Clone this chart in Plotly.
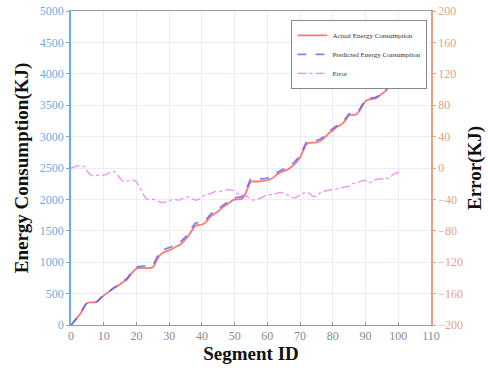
import plotly.graph_objects as go

# Segment index for each measurement
segment_id = list(range(0, 102))

# Measured energy consumption per segment (KJ)
actual_kj = [
    0, 60, 125, 190, 290, 350, 360, 360, 370, 420,
    470, 510, 545, 585, 615, 650, 690, 720, 790, 850,
    900, 905, 905, 905, 910, 920, 1010, 1100, 1150, 1170,
    1190, 1215, 1245, 1270, 1310, 1365, 1430, 1510, 1580, 1590,
    1600, 1630, 1690, 1745, 1780, 1810, 1860, 1900, 1930, 1975,
    1995, 2000, 2005, 2060, 2180, 2280, 2285, 2285, 2290, 2295,
    2305, 2325, 2355, 2400, 2430, 2450, 2470, 2505, 2545, 2600,
    2670, 2780, 2880, 2900, 2905, 2905, 2925, 2960, 3010, 3065,
    3100, 3140, 3175, 3210, 3270, 3340, 3345, 3350, 3400, 3490,
    3565, 3590, 3600, 3610, 3640, 3680, 3720, 3780, 3810, 3815,
    3820, 3825,
]

# Model-predicted energy consumption per segment (KJ)
predicted_kj = [
    0, 59, 122, 188, 288, 354, 369, 370, 379, 429,
    479, 518, 550, 589, 623, 663, 707, 737, 806, 865,
    918, 930, 938, 944, 950, 960, 1051, 1143, 1194, 1213,
    1232, 1255, 1285, 1311, 1349, 1402, 1467, 1549, 1621, 1630,
    1637, 1664, 1723, 1777, 1810, 1840, 1889, 1928, 1958, 2003,
    2025, 2033, 2040, 2094, 2217, 2320, 2326, 2325, 2328, 2331,
    2339, 2359, 2388, 2432, 2461, 2482, 2504, 2541, 2583, 2637,
    2704, 2812, 2911, 2933, 2941, 2940, 2957, 2990, 3039, 3093,
    3127, 3167, 3201, 3235, 3294, 3363, 3365, 3369, 3418, 3506,
    3581, 3609, 3617, 3625, 3654, 3694, 3733, 3793, 3820, 3822,
    3826, 3834,
]

# Cumulative error, actual minus predicted (KJ)
error_kj = [
    0, 1, 3, 2, 2, -4, -9, -10, -9, -9,
    -9, -8, -5, -4, -8, -13, -17, -17, -16, -15,
    -18, -25, -33, -39, -40, -40, -41, -43, -44, -43,
    -42, -40, -40, -41, -39, -37, -37, -39, -41, -40,
    -37, -34, -33, -32, -30, -30, -29, -28, -28, -28,
    -30, -33, -35, -34, -37, -40, -41, -40, -38, -36,
    -34, -34, -33, -32, -31, -32, -34, -36, -38, -37,
    -34, -32, -31, -33, -36, -35, -32, -30, -29, -28,
    -27, -27, -26, -25, -24, -23, -20, -19, -18, -16,
    -16, -19, -17, -15, -14, -14, -13, -13, -10, -7,
    -6, -9,
]

SERIF = "Liberation Serif, Times New Roman, serif"
LEFT_COLOR = "#6aaee0"
RIGHT_COLOR = "#e3a284"
GRID = "#e8eef4"

fig = go.Figure()

fig.add_trace(go.Scatter(
    x=segment_id, y=actual_kj, name="Actual Energy Consumption",
    mode="lines", line=dict(color="rgba(255,95,95,0.85)", width=1.8, shape="spline"),
))
fig.add_trace(go.Scatter(
    x=segment_id, y=predicted_kj, name="Predicted Energy Consumption",
    mode="lines", line=dict(color="rgba(90,90,240,0.75)", width=1.8, dash="dash", shape="spline"),
))
fig.add_trace(go.Scatter(
    x=segment_id, y=error_kj, name="Error", yaxis="y2",
    mode="lines", line=dict(color="rgba(245,120,245,0.85)", width=1.3, dash="dashdot", shape="spline"),
))

fig.update_layout(
    width=488, height=371,
    margin=dict(l=71, r=57, t=11, b=46, autoexpand=False),
    paper_bgcolor="white", plot_bgcolor="white",
    font=dict(family=SERIF, size=12, color="#888888"),
    showlegend=True,
    legend=dict(
        x=0.99, y=0.972, xanchor="right", yanchor="top",
        bgcolor="white", bordercolor="#888888", borderwidth=1,
        font=dict(family=SERIF, size=7, color="#333333"),
        tracegroupgap=0, itemwidth=30,
    ),
    xaxis=dict(
        range=[0, 110], tick0=0, dtick=10, automargin=False,
        showgrid=True, gridcolor=GRID, gridwidth=1,
        showline=True, linecolor="#9a9a9a", linewidth=1, mirror=True,
        ticks="inside", ticklen=3, tickcolor="#9a9a9a",
        tickfont=dict(family=SERIF, size=12, color="#8a8a8a"),
        zeroline=False,
        title=dict(text="<b>Segment ID</b>", font=dict(family=SERIF, size=19, color="#111111"), standoff=4),
    ),
    yaxis=dict(
        range=[0, 5000], tick0=0, dtick=500, automargin=False,
        showgrid=True, gridcolor=GRID, gridwidth=1,
        showline=True, linecolor=LEFT_COLOR, linewidth=1.5,
        ticks="outside", ticklen=3, tickcolor=LEFT_COLOR,
        tickfont=dict(family=SERIF, size=12, color=LEFT_COLOR),
        zeroline=False,
        title=dict(text="<b>Energy Consumption(KJ)</b>", font=dict(family=SERIF, size=19, color="#111111"), standoff=6),
    ),
    yaxis2=dict(
        range=[-200, 200], tick0=-200, dtick=40, automargin=False,
        overlaying="y", side="right",
        showgrid=False,
        showline=True, linecolor=RIGHT_COLOR, linewidth=1.5,
        ticks="outside", ticklen=3, tickcolor=RIGHT_COLOR,
        tickfont=dict(family=SERIF, size=12, color=RIGHT_COLOR),
        zeroline=False,
        title=dict(text="<b>Error(KJ)</b>", font=dict(family=SERIF, size=19, color="#111111"), standoff=6),
    ),
)

fig.write_html("out.html")
